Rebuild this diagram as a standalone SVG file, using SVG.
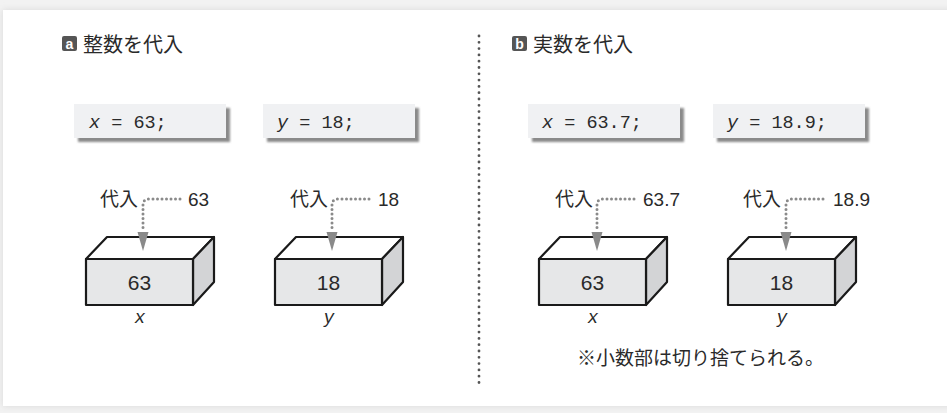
<svg xmlns="http://www.w3.org/2000/svg" width="947" height="413" viewBox="0 0 947 413">
<defs>
<style>
.jp{font-family:"Liberation Sans","Noto Sans CJK JP",sans-serif;fill:#2a2a2a}
.code{font-family:"Liberation Mono",monospace;font-size:18.5px;fill:#2a2a2a}
.it{font-style:italic}
.cbox{fill:#f0f1f3}
.cshadow{fill:#8a8a8a}
.front{fill:#e6e7e8;stroke:#1a1a1a;stroke-width:2.2;stroke-linejoin:round}
.top{fill:#ffffff;stroke:#1a1a1a;stroke-width:2.2;stroke-linejoin:round}
.side{fill:#d3d4d6;stroke:#1a1a1a;stroke-width:2.2;stroke-linejoin:round}
.num{font-family:"Liberation Sans",sans-serif;font-size:21px;fill:#2a2a2a;text-anchor:middle}
.lbl{font-family:"Liberation Sans","Noto Sans CJK JP",sans-serif;font-size:19px;fill:#2a2a2a}
.var{font-family:"Liberation Mono",monospace;font-style:italic;font-size:18px;fill:#2a2a2a;text-anchor:middle}
.dots{fill:none;stroke:#8a8a8a;stroke-width:3;stroke-linecap:round;stroke-dasharray:0 4.5}
.head{fill:#8a8a8a}
.div{stroke:#555;stroke-width:2.8;stroke-linecap:round;stroke-dasharray:0 6.3}
.badge{fill:#555}
.badgeT{font-family:"Liberation Sans",sans-serif;font-size:14px;font-weight:bold;fill:#fff;text-anchor:middle}
</style>
<filter id="sh" x="-10%" y="-10%" width="130%" height="140%"><feGaussianBlur stdDeviation="1"/></filter>
<filter id="cardsh" x="-5%" y="-10%" width="110%" height="120%"><feGaussianBlur stdDeviation="3"/></filter>
</defs>
<rect x="0" y="0" width="947" height="413" fill="#f2f2f2"/>
<rect x="3" y="10" width="960" height="396" fill="#d8d8d8" filter="url(#cardsh)"/>
<rect x="3" y="10" width="960" height="396" fill="#ffffff"/>

<g id="title-a">
<rect class="badge" x="62" y="36" width="15" height="15" rx="2"/>
<text class="badgeT" x="69.5" y="48.5">a</text>
<text class="jp" x="83" y="52" font-size="20">整数を代入</text>
</g>
<g id="title-b">
<rect class="badge" x="512" y="36" width="15" height="15" rx="2"/>
<text class="badgeT" x="519.5" y="48.5">b</text>
<text class="jp" x="533" y="52" font-size="20">実数を代入</text>
</g>

<g id="code-x1">
<rect class="cshadow" x="78" y="108" width="152" height="34" filter="url(#sh)"/>
<rect class="cbox" x="74" y="104" width="152" height="34"/>
<text class="code" x="89" y="128"><tspan class="it">x</tspan> = 63;</text>
</g>
<g id="code-y1">
<rect class="cshadow" x="267" y="108" width="152" height="34" filter="url(#sh)"/>
<rect class="cbox" x="263" y="104" width="152" height="34"/>
<text class="code" x="277" y="128"><tspan class="it">y</tspan> = 18;</text>
</g>
<g id="code-x2">
<rect class="cshadow" x="532" y="108" width="152" height="34" filter="url(#sh)"/>
<rect class="cbox" x="528" y="104" width="152" height="34"/>
<text class="code" x="542" y="128"><tspan class="it">x</tspan> = 63.7;</text>
</g>
<g id="code-y2">
<rect class="cshadow" x="717" y="108" width="152" height="34" filter="url(#sh)"/>
<rect class="cbox" x="713" y="104" width="152" height="34"/>
<text class="code" x="727" y="128"><tspan class="it">y</tspan> = 18.9;</text>
</g>

<g id="box-x1">
<polygon class="top" points="86,259 107,237 214,237 193,259"/>
<polygon class="side" points="193,259 214,237 214,282 193,305"/>
<rect class="front" x="86" y="259" width="107" height="46"/>
<text class="num" x="139.5" y="290">63</text>
<text class="var" x="140" y="323">x</text>
</g>
<g id="box-y1">
<polygon class="top" points="275,259 296,237 403,237 382,259"/>
<polygon class="side" points="382,259 403,237 403,282 382,305"/>
<rect class="front" x="275" y="259" width="107" height="46"/>
<text class="num" x="328.5" y="290">18</text>
<text class="var" x="329" y="323">y</text>
</g>
<g id="box-x2">
<polygon class="top" points="539,259 560,237 667,237 646,259"/>
<polygon class="side" points="646,259 667,237 667,282 646,305"/>
<rect class="front" x="539" y="259" width="107" height="46"/>
<text class="num" x="592.5" y="290">63</text>
<text class="var" x="593" y="323">x</text>
</g>
<g id="box-y2">
<polygon class="top" points="728,259 749,237 856,237 835,259"/>
<polygon class="side" points="835,259 856,237 856,282 835,305"/>
<rect class="front" x="728" y="259" width="107" height="46"/>
<text class="num" x="781.5" y="290">18</text>
<text class="var" x="782" y="323">y</text>
</g>

<g id="labels">
<text class="lbl" x="100" y="206">代入</text>
<text class="lbl" x="188" y="206" font-size="20">63</text>
<text class="lbl" x="290" y="206">代入</text>
<text class="lbl" x="378" y="206" font-size="20">18</text>
<text class="lbl" x="555" y="206">代入</text>
<text class="lbl" x="643" y="206" font-size="20">63.7</text>
<text class="lbl" x="743" y="206">代入</text>
<text class="lbl" x="833" y="206" font-size="20">18.9</text>
<text class="lbl" x="577" y="365" font-size="18.5">※小数部は切り捨てられる。</text>
</g>

<g id="connectors">
<path class="dots" d="M180 199 H149 Q143 199 143 205 V230"/>
<polygon class="head" points="137.5,232 148.5,232 143,251"/>
<path class="dots" d="M369 199 H338 Q332 199 332 205 V230"/>
<polygon class="head" points="326.5,232 337.5,232 332,251"/>
<path class="dots" d="M634 199 H603 Q597 199 597 205 V230"/>
<polygon class="head" points="591.5,232 602.5,232 597,251"/>
<path class="dots" d="M823 199 H792 Q786 199 786 205 V230"/>
<polygon class="head" points="780.5,232 791.5,232 786,251"/>
<line class="div" x1="479" y1="36" x2="479" y2="384"/>
</g>
</svg>
